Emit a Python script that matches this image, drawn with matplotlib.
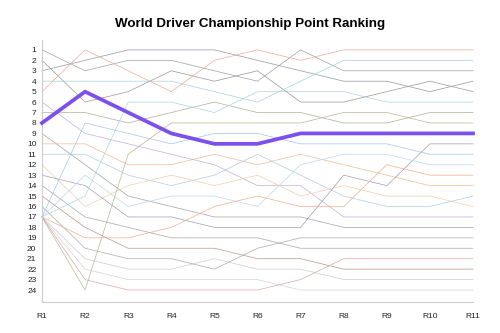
import matplotlib.pyplot as plt

plt.rcParams["font.family"] = ["Liberation Sans", "DejaVu Sans"]

rounds = ["R1", "R2", "R3", "R4", "R5", "R6", "R7", "R8", "R9", "R10", "R11"]

# championship position of each driver after every round
ranks = {
    "a": [1, 3, 2, 2, 3, 4, 1, 3, 3, 3, 3],
    "b": [2, 6, 5, 3, 4, 3, 6, 6, 5, 4, 5],
    "c": [3, 2, 1, 1, 1, 2, 3, 4, 4, 5, 4],
    "d": [4, 4, 4, 4, 5, 6, 4, 2, 2, 2, 2],
    "e": [5, 1, 3, 5, 2, 1, 2, 1, 1, 1, 1],
    "f": [6, 9, 10, 11, 12, 14, 14, 17, 17, 17, 17],
    "g": [7, 7, 8, 7, 6, 7, 7, 8, 8, 7, 7],
    "i": [9, 12, 15, 16, 17, 17, 17, 18, 18, 18, 18],
    "j": [10, 10, 12, 12, 11, 12, 11, 12, 13, 14, 14],
    "k": [11, 11, 13, 14, 13, 11, 13, 15, 16, 16, 15],
    "l": [12, 16, 14, 13, 14, 13, 15, 14, 15, 15, 16],
    "m": [13, 14, 17, 17, 18, 18, 18, 13, 14, 10, 10],
    "n": [14, 17, 18, 19, 19, 19, 20, 20, 20, 20, 20],
    "o": [15, 18, 20, 20, 20, 21, 21, 22, 22, 22, 22],
    "p": [16, 20, 21, 21, 22, 20, 19, 19, 19, 19, 19],
    "q": [17, 8, 9, 10, 9, 9, 10, 10, 10, 11, 11],
    "r": [17, 13, 16, 15, 15, 16, 12, 11, 11, 12, 12],
    "s": [17, 15, 6, 6, 7, 5, 5, 5, 6, 6, 6],
    "t": [17, 19, 19, 18, 16, 15, 16, 16, 12, 13, 13],
    "u": [17, 21, 22, 22, 21, 22, 22, 23, 23, 23, 23],
    "v": [17, 22, 23, 23, 23, 23, 24, 24, 24, 24, 24],
    "w": [17, 23, 24, 24, 24, 24, 23, 21, 21, 21, 21],
    "x": [17, 24, 11, 8, 8, 8, 8, 7, 7, 8, 8],
}
highlight = [8, 5, 7, 9, 10, 10, 9, 9, 9, 9, 9]

colors = {
    "a": "#9a9a9a", "b": "#8f8f8f", "c": "#8a8fa0", "d": "#9fd0d8",
    "e": "#f0a58f", "f": "#c0a8d8", "g": "#a8a890", "i": "#9a9a9a",
    "j": "#f2b48a", "k": "#a9c8e8", "l": "#f6c9a0", "m": "#9a94b0",
    "n": "#a0a0a0", "o": "#b09080", "p": "#a5a5a5", "q": "#9cc0ec",
    "r": "#b8d4ee", "s": "#a8d0e0", "t": "#f0a888", "u": "#c8c8c8",
    "v": "#d0d0d0", "w": "#e0a0a0", "x": "#b8b090",
}

fig = plt.figure(figsize=(5, 3.33), dpi=100)
ax = fig.add_axes([0.084, 0.093, 0.862, 0.787])

x = list(range(len(rounds)))
for key, r in ranks.items():
    ax.plot(x, r, color=colors[key], lw=0.55, alpha=0.85, clip_on=False)
ax.plot(x, highlight, color="#7b50ec", lw=2.7, clip_on=False, zorder=5)

ax.set_xlim(0, 10)
ax.set_ylim(25.15, 0.05)
ax.set_xticks(x)
ax.set_xticklabels(rounds)
ax.set_yticks(range(1, 25))
ax.tick_params(length=0, labelsize=6, colors="#222222")
ax.tick_params(axis="y", pad=4)
ax.tick_params(axis="x", pad=8)

for side in ("top", "right"):
    ax.spines[side].set_visible(False)
for side in ("left", "bottom"):
    ax.spines[side].set_color("#cccccc")
    ax.spines[side].set_linewidth(0.8)

fig.suptitle("World Driver Championship Point Ranking", fontsize=9.6,
             fontweight="bold", y=0.945)

fig.savefig("out.png", dpi=100)
